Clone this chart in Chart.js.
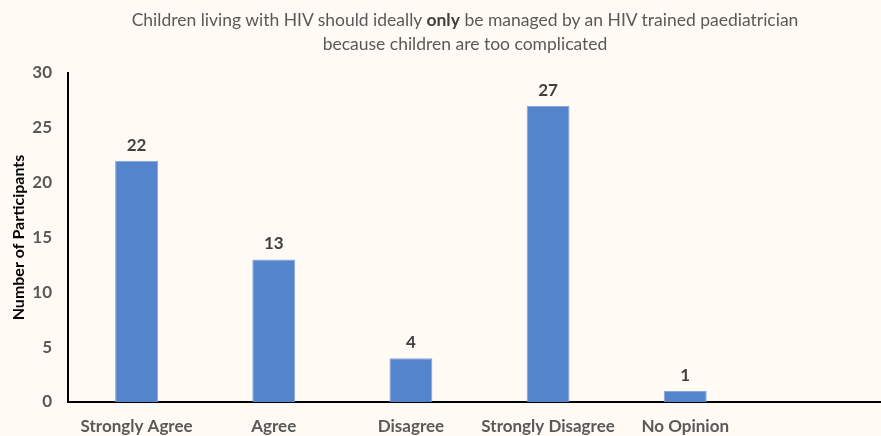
<!DOCTYPE html>
<html>
<head>
<meta charset="utf-8">
<script src="https://cdn.jsdelivr.net/npm/chart.js@4/dist/chart.umd.min.js"></script>
<style>
  html, body { margin: 0; padding: 0; background: #fffbf4; overflow: hidden; }
  #wrap { position: relative; width: 891px; height: 436px; }
  #title {
    position: absolute; left: 0; top: 8px; width: 930px;
    text-align: center; font: 17.5px Lato, sans-serif; line-height: 24px; color: #595959;
  }
  #title b { color: #404040; }
</style>
</head>
<body>
<div id="wrap">
  <canvas id="chart" width="891" height="436"></canvas>
  <div id="title">Children living with HIV should ideally <b>only</b> be managed by an HIV trained paediatrician<br>because children are too complicated</div>
</div>
<script>
// responses, one empty slot on the right
const categories = ["Strongly Agree", "Agree", "Disagree", "Strongly Disagree", "No Opinion", ""];
const participants = [22, 13, 4, 27, 1, null];
const yTicks = [0, 5, 10, 15, 20, 25, 30];

// value labels above each bar
const barLabels = {
  id: "barLabels",
  afterDatasetsDraw(chart) {
    const ctx = chart.ctx;
    const meta = chart.getDatasetMeta(0);
    ctx.save();
    ctx.font = "bold 17px Lato, sans-serif";
    ctx.fillStyle = "#404040";
    ctx.textAlign = "center";
    ctx.textBaseline = "bottom";
    meta.data.forEach((bar, i) => {
      const v = participants[i];
      if (v == null) return;
      ctx.fillText(v, bar.x, bar.y - 7);
    });
    ctx.restore();
  }
};

chart = new Chart(document.getElementById("chart").getContext("2d"), {
  type: "bar",
  data: {
    labels: categories,
    datasets: [{
      data: participants,
      backgroundColor: "#5484cb",
      borderColor: "#86a6da",
      borderWidth: 1,
      categoryPercentage: 1,
      barPercentage: 0.313
    }]
  },
  options: {
    responsive: false,
    animation: false,
    layout: { padding: { top: 73, left: 0, right: 0, bottom: 0 } },
    plugins: { legend: { display: false }, tooltip: { enabled: false }, title: { display: false } },
    scales: {
      x: {
        grid: { display: false },
        border: { display: true, color: "#000", width: 2 },
        ticks: { color: "#595959", font: { family: "Lato", size: 17, weight: "bold" }, padding: 6, maxRotation: 0, autoSkip: false },
        afterFit(scale) { scale.height = 34; }
      },
      y: {
        min: 0, max: 30,
        grid: { display: false },
        border: { display: true, color: "#000", width: 2 },
        afterBuildTicks(scale) { scale.ticks = yTicks.map(v => ({ value: v })); },
        ticks: { color: "#595959", font: { family: "Lato", size: 17, weight: "bold" }, padding: 8 },
        title: {
          display: true, text: "Number of Participants", color: "#000",
          font: { family: "Lato", size: 16, weight: "bold" }, padding: { top: 9, bottom: 0 }
        },
        afterFit(scale) { scale.width = 68; }
      }
    }
  },
  plugins: [barLabels]
});
</script>
</body>
</html>
